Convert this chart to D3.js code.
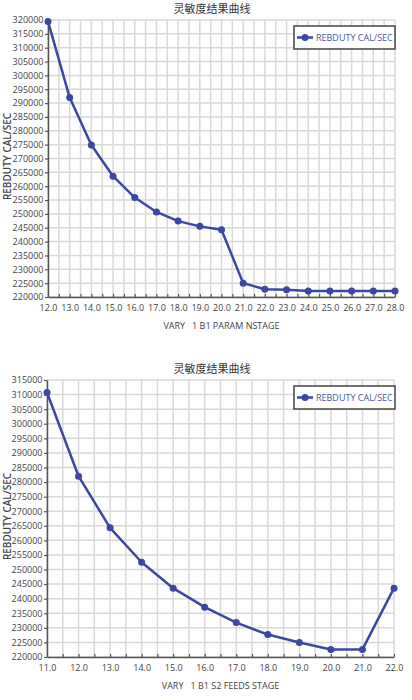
<!DOCTYPE html>
<html><head><meta charset="utf-8">
<script src="https://cdn.jsdelivr.net/npm/d3@7"></script>
<style>body{margin:0;background:#fff}svg{display:block}</style>
</head><body>
<svg id="c" width="412" height="700"></svg>
<script>
const chartTitle = "灵敏度结果曲线";
const seriesName = "REBDUTY CAL/SEC";
const yAxisTitle = "REBDUTY CAL/SEC";

// Chart 1: VARY 1 B1 PARAM NSTAGE
const nstage = [12,13,14,15,16,17,18,19,20,21,22,23,24,25,26,27,28];
const nstageDuty = [319500,292000,274900,263600,255900,250700,247400,245500,244300,225000,222800,222600,222200,222200,222200,222200,222200];
const nstageYTicks = [220000,225000,230000,235000,240000,245000,250000,255000,260000,265000,270000,275000,280000,285000,290000,295000,300000,305000,310000,315000,320000];
const nstageXTitle = "VARY   1 B1 PARAM NSTAGE";

// Chart 2: VARY 1 B1 S2 FEEDS STAGE
const feedStage = [11,12,13,14,15,16,17,18,19,20,21,22];
const feedDuty = [310700,282000,264300,252500,243600,237100,231800,227700,225000,222600,222600,243600];
const feedYTicks = [220000,225000,230000,235000,240000,245000,250000,255000,260000,265000,270000,275000,280000,285000,290000,295000,300000,305000,310000,315000];
const feedXTitle = "VARY   1 B1 S2 FEEDS STAGE";

const svg = d3.select("#c");
const lineColor = "#3b47a3";
const fontSans = "'Open Sans', 'Noto Sans', sans-serif";

function drawChart(oy, xs, ys, yTicks, xTitle, left, right) {
  const top = oy + 20, bottom = oy + 297;
  const g = svg.append("g");
  const x = d3.scaleLinear().domain([xs[0], xs[xs.length-1]]).range([left, right]);
  const y = d3.scaleLinear().domain([yTicks[0], yTicks[yTicks.length-1]]).range([bottom, top]);
  const halfSteps = [];
  for (let i = 0; i < xs.length; i++) { halfSteps.push(xs[i]); if (i < xs.length-1) halfSteps.push((xs[i]+xs[i+1])/2); }

  // grid
  g.append("g").selectAll("line.v").data(halfSteps).join("line")
    .attr("x1", d => x(d)).attr("x2", d => x(d)).attr("y1", top).attr("y2", bottom)
    .attr("stroke", "#d9d9d9").attr("stroke-width", 1.5);
  g.append("g").selectAll("line.h").data(yTicks).join("line")
    .attr("x1", left).attr("x2", right).attr("y1", d => y(d)).attr("y2", d => y(d))
    .attr("stroke", "#d9d9d9").attr("stroke-width", 1.5);

  // axes
  const yAx = g.append("g").attr("transform", `translate(${left},0)`)
    .call(d3.axisLeft(y).tickValues(yTicks).tickSizeInner(3).tickSizeOuter(0).tickPadding(1.5).tickFormat(d3.format("d")));
  const xAx = g.append("g").attr("transform", `translate(0,${bottom})`)
    .call(d3.axisBottom(x).tickValues(halfSteps).tickSizeInner(-3).tickSizeOuter(0).tickPadding(8)
      .tickFormat(d => Number.isInteger(d) ? d.toFixed(1) : ""));
  [yAx, xAx].forEach(a => {
    a.select(".domain").attr("stroke", "#555").attr("stroke-width", 1.5);
    a.selectAll(".tick line").attr("stroke", "#555").attr("stroke-width", 1.2);
    a.selectAll("text").attr("fill", "#444").style("font-family", fontSans).style("font-size", "9px");
  });

  // titles
  g.append("text").attr("x", 212).attr("y", oy + 13).attr("text-anchor", "middle")
    .style("font-family", "'Noto Sans CJK SC', serif").style("font-size", "11px").attr("fill", "#333").text(chartTitle);
  g.append("text").attr("x", (left+right)/2).attr("y", oy + 329).attr("text-anchor", "middle")
    .style("font-family", fontSans).style("font-size", "9px").attr("fill", "#444").attr("xml:space","preserve").text(xTitle);
  g.append("text").attr("transform", `translate(10.5,${(top+bottom)/2 - 2}) rotate(-90)`).attr("text-anchor", "middle")
    .style("font-family", fontSans).style("font-size", "10px").style("font-weight", "600").attr("fill", "#444").text(yAxisTitle);

  // line + markers
  const pts = xs.map((d, i) => [d, ys[i]]);
  g.append("path").datum(pts).attr("fill", "none").attr("stroke", lineColor).attr("stroke-width", 2.5)
    .attr("stroke-linejoin", "round")
    .attr("d", d3.line().x(d => x(d[0])).y(d => y(d[1])));
  g.append("g").selectAll("circle").data(pts).join("circle")
    .attr("cx", d => x(d[0])).attr("cy", d => y(d[1])).attr("r", 3.5).attr("fill", lineColor);

  // legend
  const ly = oy + 26;
  g.append("rect").attr("x", 294).attr("y", ly).attr("width", 101).attr("height", 23)
    .attr("fill", "#fff").attr("stroke", "#444").attr("stroke-width", 1.5);
  g.append("line").attr("x1", 297).attr("x2", 313).attr("y1", ly + 11.5).attr("y2", ly + 11.5)
    .attr("stroke", lineColor).attr("stroke-width", 2.5);
  g.append("circle").attr("cx", 305).attr("cy", ly + 11.5).attr("r", 3.5).attr("fill", lineColor);
  g.append("text").attr("x", 316).attr("y", ly + 11.5).attr("dy", "0.35em")
    .style("font-family", fontSans).style("font-size", "9px").attr("fill", "#4b54a8").text(seriesName);
}

drawChart(0, nstage, nstageDuty, nstageYTicks, nstageXTitle, 48, 395);
drawChart(360, feedStage, feedDuty, feedYTicks, feedXTitle, 47, 394);
</script>
</body></html>
